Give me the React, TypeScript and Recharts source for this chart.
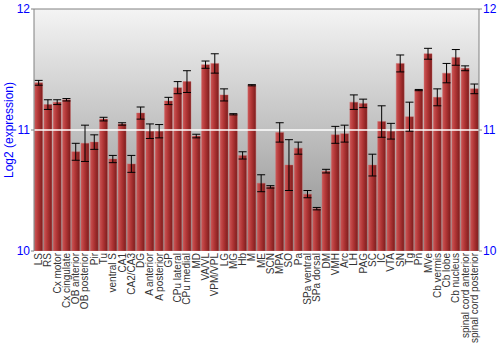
import React from "react";
import { BarChart, Bar, XAxis, YAxis, ErrorBar, ReferenceLine, ReferenceArea } from "recharts";

const regions = [
	"LS", "RS", "Cx motor", "Cx cingulate", "OB anterior", "OB posterior", "Pir", "Tu",
	"ventral S", "CA1", "CA2/CA3", "DG", "A anterior", "A posterior", "GP", "CPu lateral",
	"CPu medial", "MD", "VA/VL", "VPM/VPL", "LG", "MG", "Hb", "M", "ME", "SCN", "MPA", "SO",
	"Pa", "SPa ventral", "SPa dorsal", "DM", "VMH", "Arc", "LH", "PAG", "SC", "IC", "VTA",
	"SN", "Tg", "Pn", "MVe", "Cb vermis", "Cb lobe", "Cb nucleus", "spinal cord anterior",
	"spinal cord posterior",
];

const expression = [
	11.39, 11.21, 11.23, 11.25, 10.82, 10.89, 10.9, 11.09,
	10.76, 11.05, 10.72, 11.14, 10.99, 10.99, 11.24, 11.35,
	11.4, 10.95, 11.54, 11.55, 11.29, 11.13, 10.79, 11.37, 10.56, 10.53, 10.98, 10.71,
	10.85, 10.47, 10.35, 10.66, 10.96, 10.97, 11.23, 11.22, 10.71, 11.07, 10.99,
	11.55, 11.11, 11.33, 11.63, 11.27, 11.47, 11.6, 11.51,
	11.34,
];

const stdErr = [
	0.02, 0.04, 0.02, 0.01, 0.07, 0.15, 0.06, 0.015,
	0.03, 0.01, 0.07, 0.05, 0.06, 0.055, 0.03, 0.05,
	0.09, 0.015, 0.03, 0.08, 0.05, 0.005, 0.03, 0.005, 0.07, 0.01, 0.08, 0.21,
	0.05, 0.03, 0.01, 0.015, 0.07, 0.07, 0.06, 0.035, 0.09, 0.13, 0.065,
	0.07, 0.12, 0.005, 0.045, 0.07, 0.08, 0.065, 0.02,
	0.04,
];

const yTicks = [10, 11, 12];

const data = regions.map((name, i) => ({ name, value: expression[i], err: stdErr[i] }));

const font = "'Liberation Sans', Arial, sans-serif";

const XTick = ({ x, y, payload }: any) => (
	<text
		x={x}
		y={y}
		transform={`rotate(-90 ${x} ${y})`}
		textAnchor="end"
		dominantBaseline="central"
		fontSize={10}
		fontFamily={font}
		fill="#333"
	>
		{payload.value}
	</text>
);

export default function App() {
	return (
		<div style={{ position: "absolute", left: 0, top: 0, width: 500, height: 350, background: "#fff" }}>
			<BarChart
				width={500}
				height={350}
				data={data}
				margin={{ top: 9, right: 0, bottom: 0, left: 0 }}
				barCategoryGap="7%"
			>
				<defs>
					<linearGradient id="bg" x1="0" y1="0" x2="0" y2="1">
						<stop offset="0%" stopColor="#f4f4f4" />
						<stop offset="100%" stopColor="#8c8c8c" />
					</linearGradient>
					<linearGradient id="barFill" x1="0" y1="0" x2="1" y2="0">
						<stop offset="0%" stopColor="#cc5555" />
						<stop offset="45%" stopColor="#b03535" />
						<stop offset="100%" stopColor="#7c1c1c" />
					</linearGradient>
				</defs>
				<XAxis
					dataKey="name"
					interval={0}
					height={99}
					axisLine={false}
					tickLine={false}
					tickSize={2}
					tickMargin={0}
					tick={<XTick />}
				/>
				<YAxis
					yAxisId="left"
					domain={[10, 12]}
					ticks={yTicks}
					allowDataOverflow
					width={34}
					stroke="#808080"
					tickSize={3}
					tickMargin={1}
					tick={{ fill: "#0000ff", fontSize: 12, fontFamily: font }}
					label={{
						value: "Log2 (expression)",
						angle: -90,
						position: "center",
						dx: -8,
						fill: "#0000ff",
						fontSize: 12,
						fontFamily: font,
					}}
				/>
				<YAxis
					yAxisId="right"
					orientation="right"
					domain={[10, 12]}
					ticks={yTicks}
					allowDataOverflow
					width={21}
					stroke="#808080"
					tickSize={3}
					tickMargin={1}
					tick={{ fill: "#0000ff", fontSize: 12, fontFamily: font }}
				/>
				<ReferenceArea yAxisId="left" y1={10} y2={12} fill="url(#bg)" fillOpacity={1} stroke="none" />
				<ReferenceLine yAxisId="left" y={11} stroke="#ffffff" strokeWidth={1.5} />
				<ReferenceLine yAxisId="left" y={12} stroke="#808080" strokeWidth={1} />
				<Bar yAxisId="left" dataKey="value" fill="url(#barFill)" stroke="#d06a6a" strokeWidth={0.4} isAnimationActive={false}>
					<ErrorBar dataKey="err" width={4} stroke="#000" strokeWidth={1} />
				</Bar>
			</BarChart>
		</div>
	);
}
